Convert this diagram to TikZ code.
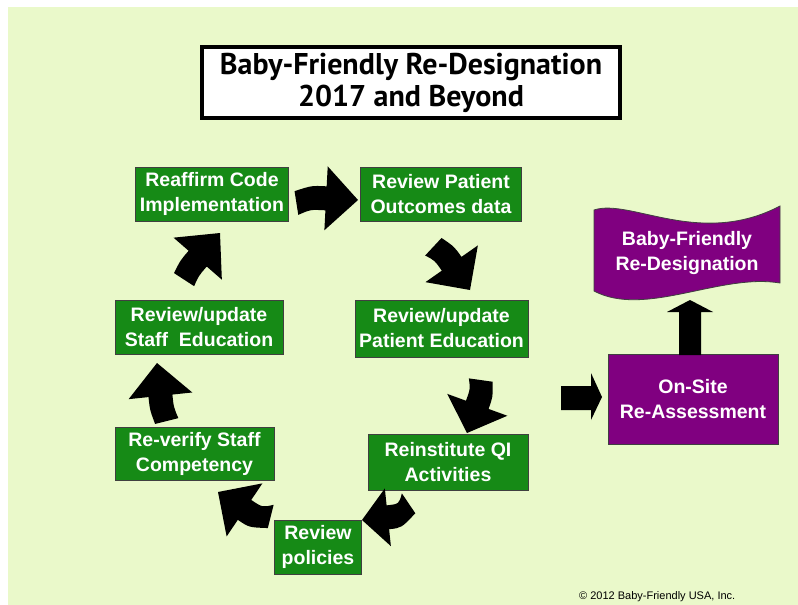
\documentclass[tikz,border=0pt]{standalone}
\usepackage{fontspec}
\setmainfont{Liberation Sans}
\newfontfamily\titlefont{PT Sans}
\definecolor{bg}{HTML}{EAF9CA}
\definecolor{grn}{HTML}{168A16}
\definecolor{prp}{HTML}{800080}
% tip x, tip y, head angle, head length, head half width, shaft half width, shaft length, bend
\newcommand\cycarr[8]{%
  \fill[black,shift={(#1,#2)},rotate=#3]
    (0,0) -- (-#4,-#5) -- (-#4,-#6)
    .. controls ({-#4-0.5*#7},-#6) .. ({-#4-#7*cos(#8)-#6*sin(#8)},{#7*sin(#8)-#6*cos(#8)})
    -- ({-#4-#7*cos(#8)+#6*sin(#8)},{#7*sin(#8)+#6*cos(#8)})
    .. controls ({-#4-0.5*#7},#6) .. (-#4,#6) -- (-#4,#5) -- cycle;}
\begin{document}
\begin{tikzpicture}[x=1pt,y=-1pt,
  boxtext/.style={text=white, font=\fontsize{19.5}{25}\selectfont\bfseries, align=center, inner sep=0pt},
  gbox/.style={boxtext, draw=black!75, line width=0.8pt, fill=grn},
  pbox/.style={boxtext, draw=black!75, line width=0.8pt, fill=prp}]
\useasboundingbox (0,0) rectangle (798,605);
\fill[white] (0,0) rectangle (798,605);
\fill[bg] (8,7) rectangle (798,605);

% title
\node[draw, line width=4pt, fill=white, minimum width=418pt, minimum height=71pt, inner sep=0pt,
      font=\titlefont\bfseries\fontsize{30}{32}\selectfont, align=center] (title) at (411,82.5)
      {Baby-Friendly Re-Designation\\2017 and Beyond};

% green boxes
\node[gbox, minimum width=153pt, minimum height=54pt] (reaffirm) at (212,194) {Reaffirm Code\\Implementation};
\node[gbox, minimum width=161pt, minimum height=54pt] (outcomes) at (441,194) {Review Patient\\Outcomes data};
\node[gbox, minimum width=168pt, minimum height=54pt] (staffedu) at (199,327) {Review/update\\Staff\ \ Education};
\node[gbox, minimum width=173pt, minimum height=57pt] (patedu) at (441.5,328.5) {Review/update\\Patient Education};
\node[gbox, minimum width=159pt, minimum height=53pt] (reverify) at (194.5,453.5) {Re-verify Staff\\Competency};
\node[gbox, minimum width=160pt, minimum height=56pt] (qi) at (448,462) {Reinstitute QI\\Activities};
\node[gbox, minimum width=87pt, minimum height=54pt] (policies) at (318,547) {Review\\policies};

% purple
\node[pbox, minimum width=170pt, minimum height=90pt] (onsite) at (693,399) {On-Site\\Re-Assessment};
\filldraw[fill=prp, draw=black!75, line width=0.8pt]
  (594,210) .. controls (630,198) and (700,248) .. (780,206) -- (780,283)
  .. controls (720,273) and (645,318) .. (594,291) -- cycle;
\node[boxtext] (banner) at (687,253) {Baby-Friendly\\Re-Designation};

% straight block arrows
\fill[black] (679,355) -- (679,312) -- (667,312) -- (690,300) -- (713,312) -- (701,312) -- (701,355) -- cycle;
\fill[black] (561,386) -- (591,386) -- (591,373) -- (602,397) -- (591,420) -- (591,410) -- (561,410) -- cycle;

% cycle arrows
\cycarr{358}{200}{-3}{32}{32}{12}{30}{12}
\cycarr{470}{290}{-55}{32}{32}{12}{25}{12}
\cycarr{467}{433}{-110}{30}{32}{12}{25}{12}
\cycarr{362}{520}{186}{26}{29}{12}{25}{28}
\cycarr{218}{492}{146}{32}{32}{12}{27}{20}
\cycarr{157}{363}{96}{33}{32}{12}{26}{8}
\cycarr{220}{233}{49}{34}{32}{12}{25}{8}

% copyright
\node[font=\fontsize{11}{12}\selectfont, anchor=west, inner sep=0pt] (copy) at (579,597) {© 2012 Baby-Friendly USA, Inc.};
\end{tikzpicture}
\end{document}
